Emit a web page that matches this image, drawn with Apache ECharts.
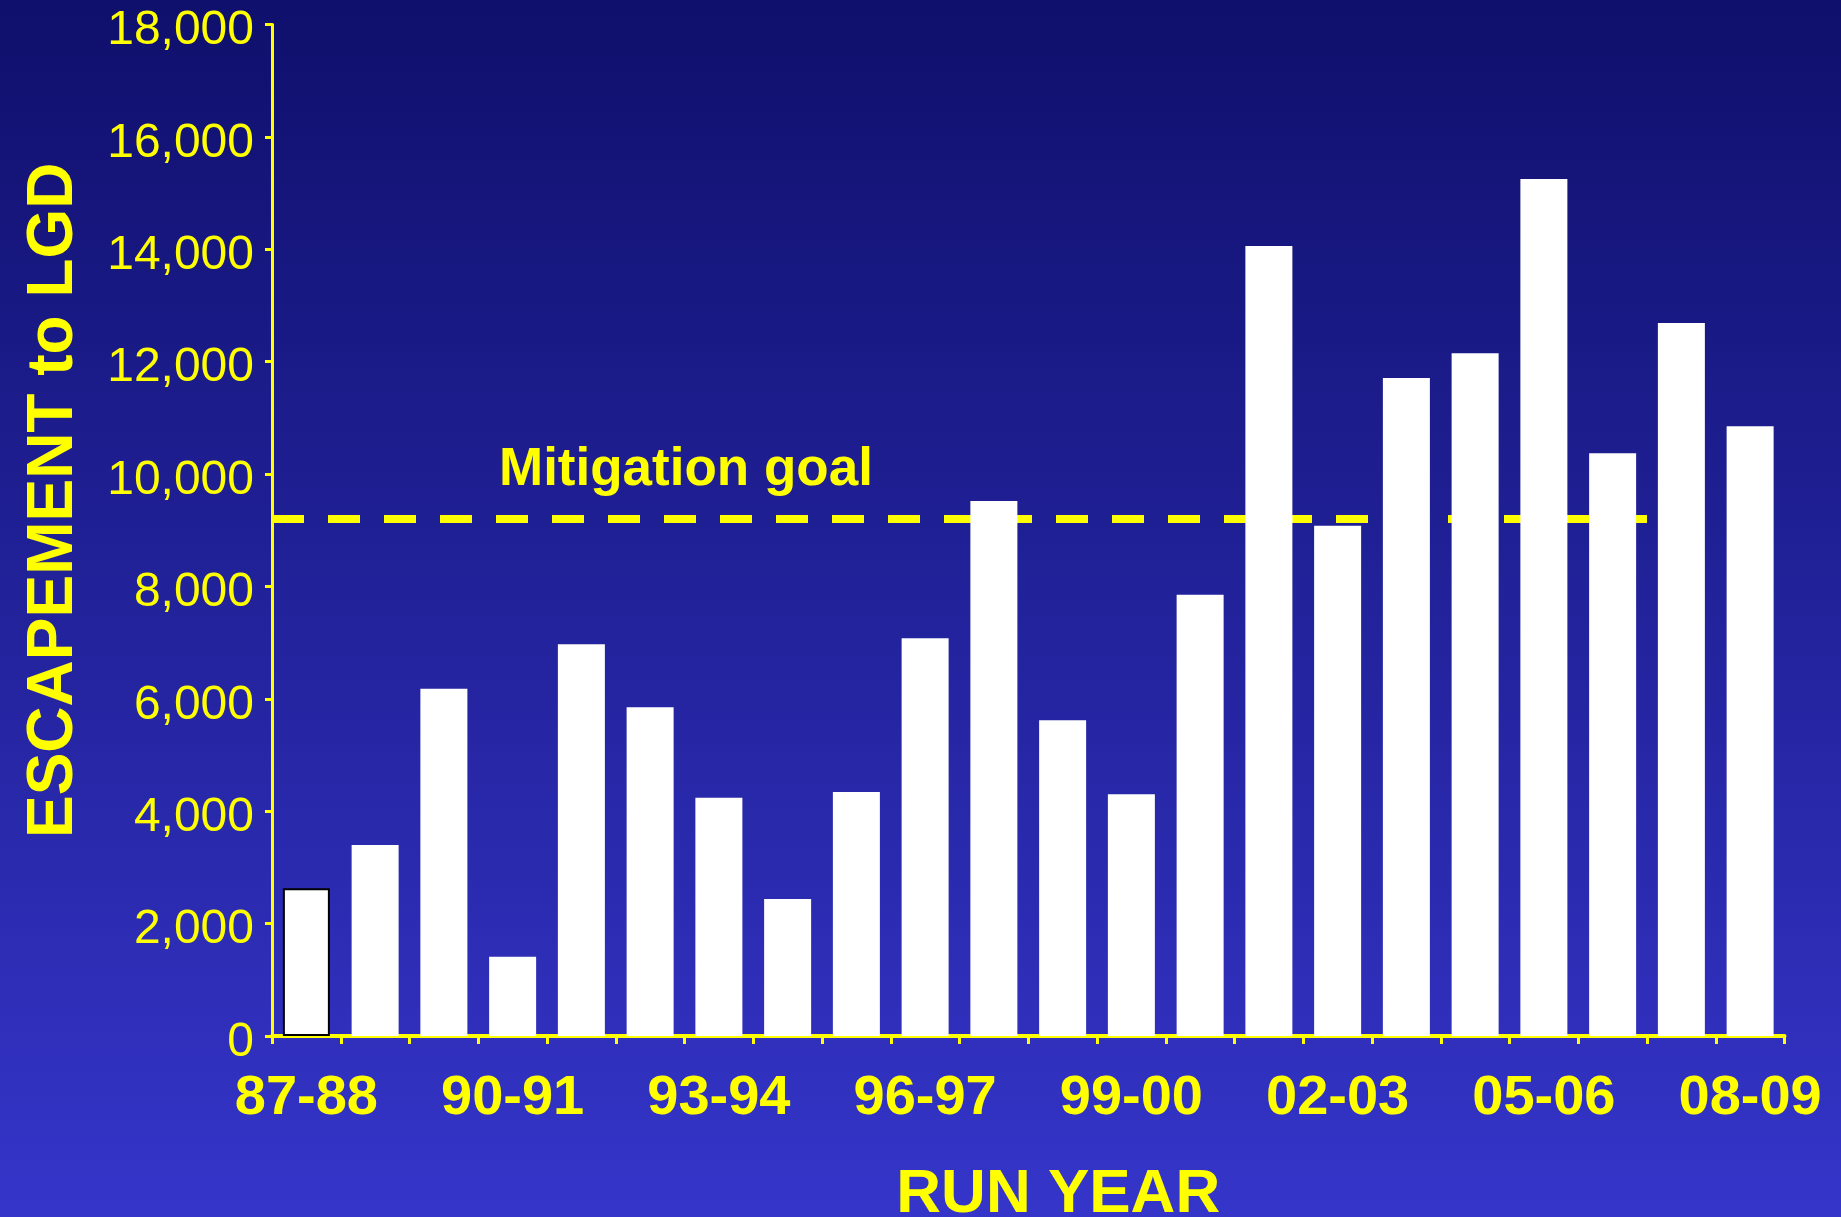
<!DOCTYPE html>
<html>
<head>
<meta charset="utf-8">
<title>Escapement to LGD by run year</title>
<script src="https://cdn.jsdelivr.net/npm/echarts@6/dist/echarts.min.js"></script>
<style>
  html, body { margin: 0; padding: 0; background: #20209a; }
  #chart { width: 1841px; height: 1217px; }
</style>
</head>
<body>
<div id="chart"></div>
<script>
// Run years (x categories)
const runYears = [
  '87-88', '88-89', '89-90', '90-91', '91-92', '92-93', '93-94', '94-95',
  '95-96', '96-97', '97-98', '98-99', '99-00', '00-01', '01-02', '02-03',
  '03-04', '04-05', '05-06', '06-07', '07-08', '08-09'
];

// Adult escapement counted at Lower Granite Dam
const escapement = [
  2630, 3400, 6180, 1410, 6970, 5850, 4240, 2440, 4340, 7080, 9520,
  5620, 4300, 7850, 14060, 9080, 11710, 12150, 15250, 10370, 12690, 10850
];

// Mitigation goal level and the run-year span it is drawn across
const mitigationGoal = 9200;
const goalSpan = [0, 20];

const yellow = '#ffff00';
const fontFamily = '"Liberation Sans", Arial, Helvetica, sans-serif';

function withCommas(v) {
  return String(v).replace(/\B(?=(\d{3})+(?!\d))/g, ',');
}

const chart = echarts.init(document.getElementById('chart'), null, { renderer: 'canvas' });

const barData = escapement.map((v, i) => i === 0
  ? { value: v, itemStyle: { borderColor: '#000000', borderWidth: 2 } }
  : v);

chart.setOption({
  animation: false,
  backgroundColor: new echarts.graphic.LinearGradient(0, 0, 0, 1, [
    { offset: 0, color: '#0f0f6c' },
    { offset: 1, color: '#3535ca' }
  ]),
  textStyle: { fontFamily: fontFamily },
  grid: {
    left: 272, top: 24.5, width: 1512.5, bottom: 181,
    containLabel: false,
    outerBoundsMode: 'none'
  },
  xAxis: [
    {
      type: 'category',
      data: runYears,
      boundaryGap: true,
      axisLine: { show: true, lineStyle: { color: yellow, width: 4 } },
      axisTick: { show: true, interval: 0, length: 8, lineStyle: { color: yellow, width: 3 } },
      axisLabel: {
        interval: 2,
        margin: 35,
        color: yellow,
        fontSize: 56,
        fontWeight: 'bold',
        fontFamily: fontFamily
      },
      splitLine: { show: false },
      name: 'RUN YEAR',
      nameLocation: 'middle',
      nameGap: 128,
      nameTextStyle: {
        color: yellow,
        fontSize: 62,
        fontWeight: 'bold',
        fontFamily: fontFamily,
        padding: [0, 0, 0, 60]
      }
    },
    {
      type: 'value',
      min: 0,
      max: runYears.length,
      show: false
    }
  ],
  yAxis: {
    type: 'value',
    min: 0,
    max: 18000,
    interval: 2000,
    axisLine: { show: true, lineStyle: { color: yellow, width: 3 } },
    axisTick: { show: true, length: 7, lineStyle: { color: yellow, width: 3 } },
    axisLabel: {
      margin: 18,
      color: yellow,
      fontSize: 48,
      lineHeight: 13,
      verticalAlign: 'top',
      fontFamily: fontFamily,
      formatter: withCommas
    },
    splitLine: { show: false },
    name: 'ESCAPEMENT to LGD',
    nameLocation: 'middle',
    nameRotate: 90,
    nameGap: 186,
    nameTextStyle: {
      color: yellow,
      fontSize: 64,
      fontWeight: 'bold',
      fontFamily: fontFamily,
      padding: [0, 0, 0, 60]
    }
  },
  series: [
    {
      name: 'Mitigation goal',
      type: 'line',
      xAxisIndex: 1,
      z: 1,
      data: goalSpan.map(x => [x, mitigationGoal]),
      showSymbol: false,
      symbol: 'none',
      lineStyle: { color: yellow, width: 8, type: [32, 24], cap: 'butt' },
      silent: true
    },
    {
      name: 'Escapement',
      type: 'bar',
      xAxisIndex: 0,
      z: 2,
      barWidth: 47,
      data: barData,
      itemStyle: { color: '#ffffff' }
    }
  ],
  graphic: [
    {
      type: 'text',
      left: 499,
      top: 444,
      style: {
        text: 'Mitigation goal',
        fill: yellow,
        font: 'bold 53px ' + fontFamily
      }
    }
  ]
});
</script>
</body>
</html>
